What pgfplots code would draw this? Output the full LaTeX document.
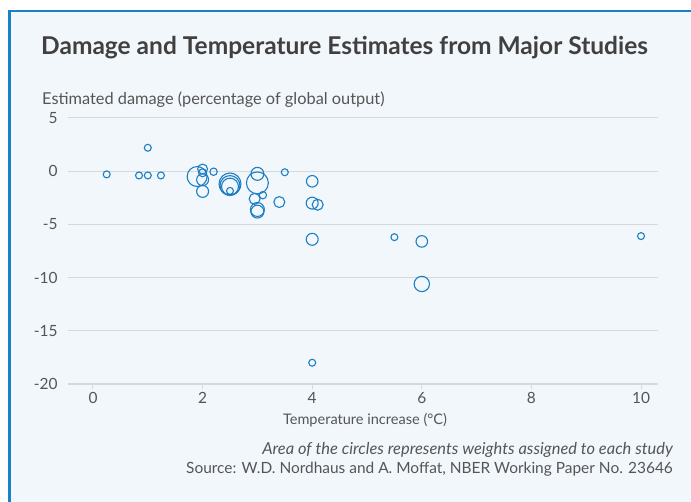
\documentclass[border=0pt]{standalone}
\usepackage{pgfplots}
\pgfplotsset{compat=1.18}
\usepackage{fontspec}
\setmainfont{Lato}
\definecolor{frameblue}{HTML}{1A80C8}
\definecolor{bgcol}{HTML}{F2F7FC}
\definecolor{ptblue}{HTML}{1B7FC4}
\definecolor{txt}{HTML}{555555}
\definecolor{ttl}{HTML}{404040}
\definecolor{gridc}{HTML}{D5D9DE}
\pgfplotstableread{
x y r
0.25 -0.3 3.5
1.0 2.2 3.5
0.84 -0.4 3.5
1.0 -0.4 3.5
1.24 -0.4 3.5
1.9 -0.5 10
2.0 0.2 5
2.0 -0.15 4
2.0 -0.8 6
2.0 -1.9 6
2.2 -0.05 3.7
2.5 -1.2 11
2.5 -1.35 10
2.5 -1.45 8.5
2.5 -1.85 3.5
3.0 -0.25 6.5
3.0 -1.1 11
2.95 -2.6 5.5
3.1 -2.25 3.7
3.0 -3.6 7
3.0 -3.8 6.5
3.4 -2.9 5.5
3.5 -0.1 3.5
4.0 -0.95 5.8
4.0 -3.0 6
4.1 -3.15 5.5
4.0 -6.4 6
5.5 -6.2 3.5
6.0 -6.6 5.8
6.0 -10.6 7.7
10.0 -6.1 3.5
4.0 -18.0 3.5
}\pts
\begin{document}
\begin{tikzpicture}[x=1bp,y=1bp]
\useasboundingbox (0,0) rectangle (691,502);
\fill[white] (0,0) rectangle (691,502);
\fill[bgcol] (9,0) rectangle (691,491);
\fill[frameblue] (8,0) rectangle (10.5,492);
\fill[frameblue] (8,490) rectangle (691,492);
\node[anchor=base west, font=\bfseries\fontsize{24.6}{28}\selectfont, text=ttl, inner sep=0] at (41,447) {Damage and Temperature Estimates from Major Studies};
\node[anchor=base west, font=\fontsize{16.4}{19}\selectfont, text=txt, inner sep=0] at (42,397) {Estimated damage (percentage of global output)};
\begin{axis}[
  at={(68bp,118bp)}, anchor=south west,
  scale only axis, width=590bp, height=266bp,
  xmin=-0.456, xmax=10.31, ymin=-20, ymax=5,
  xtick={0,2,...,10}, ytick={-20,-15,...,5},
  axis lines*=left,
  x axis line style={draw=gridc, line width=1.2bp, -},
  y axis line style={draw=none},
  ymajorgrids, grid style={draw=gridc, line width=1bp},
  xtick style={draw=gridc, line width=1bp},
  ytick style={draw=none},
  tick align=outside, major tick length=5bp,
  /pgf/number format/assume math mode=true,
  tick label style={font=\fontsize{15.5}{18}\selectfont, text=txt},
  yticklabel style={xshift=-2bp},
  clip=false,
]
\addplot[only marks, mark=o, draw=ptblue, line width=1.1bp,
  scatter, scatter/use mapped color={draw=ptblue},
  visualization depends on={\thisrow{r}\as\rad},
  scatter/@pre marker code/.append style={/tikz/mark size=\rad}]
  table[x=x,y=y] {\pts};
\end{axis}
\node[anchor=base, font=\fontsize{14.6}{18}\selectfont, text=txt, inner sep=0] at (365,77) {Temperature increase (°C)};
\node[anchor=base east, font=\itshape\fontsize{16.5}{19}\selectfont, text=txt, inner sep=0] at (673,47) {Area of the circles represents weights assigned to each study};
\node[anchor=base east, font=\fontsize{15.5}{18}\selectfont, text=txt, inner sep=0] at (673,28) {Source: W.D. Nordhaus and A. Moffat, NBER Working Paper No. 23646};
\end{tikzpicture}
\end{document}
